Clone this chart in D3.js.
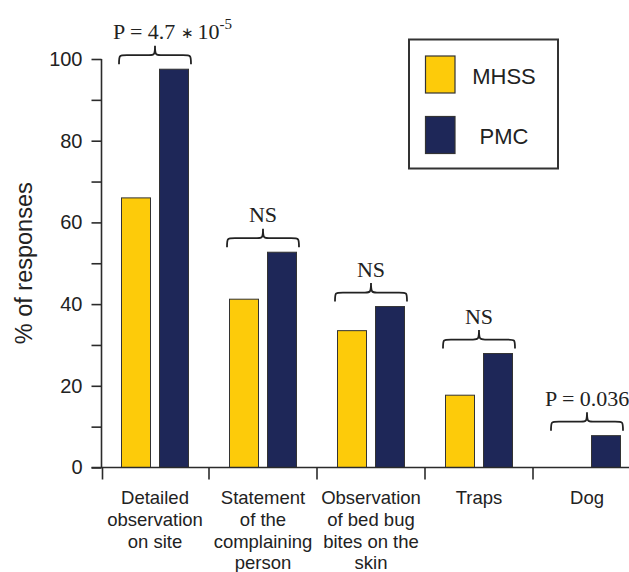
<!DOCTYPE html>
<html>
<head>
<meta charset="utf-8">
<script src="https://cdn.jsdelivr.net/npm/d3@7"></script>
<style>
  html, body { margin: 0; padding: 0; background: #fff; }
  svg { display: block; }
</style>
</head>
<body>
<svg id="chart" width="629" height="572"></svg>
<script>
// ---- data ----
const categories = ["Detailed observation on site", "Statement of the complaining person", "Observation of bed bug bites on the skin", "Traps", "Dog"];
const categoryLines = [["Detailed", "observation", "on site"], ["Statement", "of the", "complaining", "person"], ["Observation", "of bed bug", "bites on the", "skin"], ["Traps"], ["Dog"]];
const seriesNames = ["MHSS", "PMC"];
const mhssValues = [66, 41.2, 33.5, 17.7, 0];
const pmcValues = [97.5, 52.7, 39.4, 27.9, 7.8];
const sigLabels = ["P = 4.7 | \u2217 | 10", "NS", "NS", "NS", "P = 0.036"];
const sigExponents = ["-5", "", "", "", ""];
const yTicks = [0, 20, 40, 60, 80, 100];
const yMinorTicks = [0, 10, 20, 30, 40, 50, 60, 70, 80, 90, 100];
const colors = ["#FDCB0A", "#1E2758"];

// ---- layout ----
const svg = d3.select("#chart");
const W = 629, H = 572;
const axisColor = "#2b2b2b";
const textColor = "#222";

const y = d3.scaleLinear().domain([0, 100]).range([467.5, 59]);
const x = d3.scaleBand().domain(categories).range([101, 641]).padding(0);
const inner = d3.scaleBand().domain(seriesNames).range([-33.5, 33.5]).paddingInner(0.237).paddingOuter(0);
const color = d3.scaleOrdinal().domain(seriesNames).range(colors);

const rows = categories.map((c, i) => ({ cat: c, vals: [mhssValues[i], pmcValues[i]] }));

// bars
const g = svg.append("g");
rows.forEach(r => {
  const cx = x(r.cat) + x.bandwidth() / 2;
  seriesNames.forEach((s, j) => {
    const v = r.vals[j];
    if (!v) return;
    g.append("rect")
      .attr("x", cx + inner(s))
      .attr("y", y(v))
      .attr("width", inner.bandwidth())
      .attr("height", y(0) - y(v))
      .attr("fill", color(s))
      .attr("stroke", "#333")
      .attr("stroke-width", 1);
  });
});

// y axis
const yAxis = d3.axisLeft(y).tickValues(yMinorTicks).tickSize(10).tickPadding(9)
  .tickFormat(d => yTicks.includes(d) ? d : "");
const ya = svg.append("g").attr("transform", "translate(101.5,0)").call(yAxis);
ya.select(".domain").attr("stroke", axisColor).attr("stroke-width", 1.6).attr("d", `M0,${y(100)}V${y(0)}`);
ya.selectAll(".tick line").attr("stroke", axisColor).attr("stroke-width", 1.6);
ya.selectAll(".tick text").attr("fill", textColor)
  .style("font-family", "'Liberation Sans', Arial, sans-serif").style("font-size", "20px");

// x axis line and ticks
svg.append("line").attr("x1", 91.5).attr("x2", W).attr("y1", y(0)).attr("y2", y(0))
  .attr("stroke", axisColor).attr("stroke-width", 1.6);
categories.forEach((c, i) => {
  const xx = i === 0 ? x(c) + 1.5 : x(c);
  svg.append("line").attr("x1", xx).attr("x2", xx).attr("y1", y(0)).attr("y2", y(0) + 12)
    .attr("stroke", axisColor).attr("stroke-width", 1.6);
});

// category labels
categories.forEach((c, i) => {
  const t = svg.append("text")
    .attr("x", x(c) + x.bandwidth() / 2)
    .attr("y", 504)
    .attr("text-anchor", "middle")
    .attr("fill", textColor)
    .style("font-family", "'Liberation Sans', Arial, sans-serif")
    .style("font-size", "18.5px");
  categoryLines[i].forEach((ln, k) => {
    t.append("tspan").attr("x", x(c) + x.bandwidth() / 2).attr("dy", k === 0 ? 0 : 21.8).text(ln);
  });
});

// y axis title
svg.append("text")
  .attr("transform", `translate(32,${(y(0) + y(100)) / 2 + 0}) rotate(-90)`)
  .attr("text-anchor", "middle")
  .attr("fill", textColor)
  .style("font-family", "'Liberation Sans', Arial, sans-serif")
  .style("font-size", "23.5px")
  .text("% of responses");

// braces + significance labels
function bracePath(x0, x1, yb, yh, yt) {
  const xc = (x0 + x1) / 2;
  const r = 8, rt = 6;
  return `M${x0},${yb} C${x0},${yh} ${x0},${yh} ${x0 + r},${yh} ` +
    `L${xc - rt},${yh} C${xc - 1},${yh} ${xc},${yh} ${xc},${yt} ` +
    `C${xc},${yh} ${xc + 1},${yh} ${xc + rt},${yh} ` +
    `L${x1 - r},${yh} C${x1},${yh} ${x1},${yh} ${x1},${yb}`;
}
rows.forEach((r, i) => {
  const cx = x(r.cat) + x.bandwidth() / 2;
  const top = y(d3.max(r.vals));
  const yb = top - 5;
  const yh = yb - 9;
  const yt = yh - 9.5;
  svg.append("path")
    .attr("d", bracePath(cx - 36, cx + 36, yb, yh, yt))
    .attr("fill", "none").attr("stroke", "#222").attr("stroke-width", 1.8);
  const isP = sigLabels[i].startsWith("P");
  const t = svg.append("text")
    .attr("x", isP ? cx - 42 : cx)
    .attr("y", yt - 6.5)
    .attr("text-anchor", isP ? "start" : "middle")
    .attr("fill", textColor)
    .style("font-family", "'Liberation Serif', 'Times New Roman', serif")
    .style("font-size", "22px");
  const parts = sigLabels[i].split("|");
  parts.forEach(p => {
    const sp = t.append("tspan").text(p);
    if (p.trim() === "\u2217") sp.style("font-size", "15px").attr("dy", -1.5);
    else if (parts.length > 1) sp.attr("dy", p === parts[0] ? 0 : 1.5);
  });
  if (sigExponents[i]) {
    t.append("tspan").attr("dy", -10).style("font-size", "15px").text(sigExponents[i]);
  }
});

// legend
const lg = svg.append("g");
lg.append("rect").attr("x", 409).attr("y", 39.5).attr("width", 149).attr("height", 129)
  .attr("fill", "#fff").attr("stroke", "#333").attr("stroke-width", 2);
seriesNames.forEach((s, j) => {
  const yy = 56 + j * 60.5;
  lg.append("rect").attr("x", 425.5).attr("y", yy).attr("width", 29.5).attr("height", 37)
    .attr("fill", color(s)).attr("stroke", "#333").attr("stroke-width", 1.2);
  lg.append("text").attr("x", 504).attr("y", yy + 27.5)
    .attr("text-anchor", "middle").attr("fill", textColor)
    .style("font-family", "'Liberation Sans', Arial, sans-serif").style("font-size", "22px")
    .text(s);
});
</script>
</body>
</html>
